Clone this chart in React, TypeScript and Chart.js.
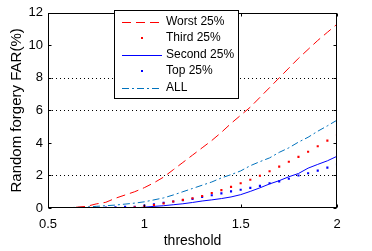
import { useEffect, useRef } from 'react';
import { Chart, registerables } from 'chart.js';

Chart.register(...registerables);

const thresholds = [0.5, 0.55, 0.6, 0.65, 0.7, 0.75, 0.8, 0.85, 0.9, 0.95, 1.0, 1.05, 1.1, 1.15, 1.2, 1.25, 1.3, 1.35, 1.4, 1.45, 1.5, 1.55, 1.6, 1.65, 1.7, 1.75, 1.8, 1.85, 1.9, 1.95, 2.0];
const worst = [0, 0, 0.02, 0.05, 0.1, 0.25, 0.35, 0.6, 0.8, 1.0, 1.25, 1.55, 1.9, 2.35, 2.8, 3.25, 3.7, 4.15, 4.65, 5.2, 5.7, 6.2, 6.8, 7.4, 8.0, 8.6, 9.2, 9.75, 10.3, 10.8, 11.3];
const third = [0, 0, 0, 0, 0, 0, 0, 0, 0, 0.05, 0.1, 0.18, 0.28, 0.4, 0.5, 0.6, 0.74, 0.92, 1.1, 1.3, 1.52, 1.74, 1.98, 2.26, 2.54, 2.84, 3.14, 3.46, 3.8, 4.14, 4.48];
const second = [0, 0, 0, 0, 0, 0, 0, 0, 0, 0, 0.05, 0.1, 0.14, 0.2, 0.26, 0.34, 0.43, 0.5, 0.58, 0.68, 0.82, 1.02, 1.24, 1.48, 1.68, 1.92, 2.12, 2.45, 2.68, 2.9, 3.18];
const top25 = [0, 0, 0, 0, 0, 0, 0.03, 0.04, 0.07, 0.08, 0.15, 0.22, 0.32, 0.4, 0.48, 0.56, 0.68, 0.78, 0.9, 1.02, 1.12, 1.24, 1.36, 1.52, 1.64, 1.8, 2.0, 2.14, 2.3, 2.48, 2.68];
const all = [0, 0, 0.02, 0.04, 0.06, 0.1, 0.14, 0.18, 0.24, 0.3, 0.38, 0.5, 0.62, 0.8, 1.0, 1.2, 1.4, 1.6, 1.85, 2.05, 2.28, 2.6, 2.85, 3.08, 3.42, 3.7, 4.05, 4.35, 4.72, 5.05, 5.4];

const xTicks = [0.5, 1, 1.5, 2];
const yTicks = [0, 2, 4, 6, 8, 10, 12];
const gridValues = [2, 6, 8];
const legendLabels = ['Worst 25%', 'Third 25%', 'Second 25%', 'Top 25%', 'ALL'];

const FONT = '"Liberation Sans", Arial, sans-serif';
const RED = '#ff0000';
const BLUE = '#0000ff';
const TEAL = '#0072bd';

export default function App() {
  const ref = useRef<HTMLCanvasElement>(null);

  useEffect(() => {
    if (!ref.current) return;
    const toPts = (arr: number[]) => thresholds.map((x, i) => ({ x, y: arr[i] }));

    const frame = {
      id: 'frame',
      beforeDatasetsDraw(chart: any) {
        const { ctx, chartArea, scales } = chart;
        const { left, right } = chartArea;
        ctx.save();
        ctx.strokeStyle = '#000';
        ctx.lineWidth = 1;
        ctx.setLineDash([1, 3]);
        gridValues.forEach((v) => {
          const py = Math.round(scales.y.getPixelForValue(v)) + 0.5;
          ctx.beginPath();
          ctx.moveTo(left, py);
          ctx.lineTo(right, py);
          ctx.stroke();
        });
        ctx.restore();
      },
      afterDatasetsDraw(chart: any) {
        const { ctx, chartArea, scales } = chart;
        const left = Math.round(chartArea.left) + 0.5;
        const right = Math.round(chartArea.right) - 0.5;
        const top = Math.round(chartArea.top) + 0.5;
        const bottom = Math.round(chartArea.bottom) - 0.5;
        ctx.save();
        ctx.strokeStyle = '#000';
        ctx.lineWidth = 1;
        ctx.setLineDash([]);
        ctx.strokeRect(left, top, right - left, bottom - top);
        const tl = 3;
        ctx.beginPath();
        xTicks.forEach((v) => {
          const px = Math.round(scales.x.getPixelForValue(v)) + 0.5;
          ctx.moveTo(px, bottom);
          ctx.lineTo(px, bottom - tl);
          ctx.moveTo(px, top);
          ctx.lineTo(px, top + tl);
        });
        yTicks.forEach((v) => {
          const py = Math.round(scales.y.getPixelForValue(v)) + 0.5;
          ctx.moveTo(left, py);
          ctx.lineTo(left + tl, py);
          ctx.moveTo(right, py);
          ctx.lineTo(right - tl, py);
        });
        ctx.stroke();

        // legend box
        const bx = 114.5, by = 10.5, bw = 124, bh = 88;
        ctx.fillStyle = '#fff';
        ctx.fillRect(bx, by, bw, bh);
        ctx.strokeStyle = '#000';
        ctx.strokeRect(bx, by, bw, bh);
        const rows = [21.5, 38, 54.5, 71, 87.5];
        chart.data.datasets.forEach((ds: any, i: number) => {
          const y = rows[i];
          ctx.save();
          if (ds.showLine === false) {
            ctx.fillStyle = ds.pointBackgroundColor;
            ctx.fillRect(141, y - 1, 2, 2);
          } else {
            ctx.strokeStyle = ds.borderColor;
            ctx.lineWidth = 1;
            ctx.setLineDash(ds.borderDash || []);
            ctx.beginPath();
            ctx.moveTo(122, Math.round(y) + 0.5);
            ctx.lineTo(162, Math.round(y) + 0.5);
            ctx.stroke();
          }
          ctx.restore();
          ctx.fillStyle = '#000';
          ctx.font = `12px ${FONT}`;
          ctx.textBaseline = 'middle';
          ctx.textAlign = 'left';
          ctx.fillText(legendLabels[i], 166, y);
        });
        ctx.restore();
      },
    };

    const chart = new Chart(ref.current, {
      type: 'line',
      data: {
        datasets: [
          { label: legendLabels[0], data: toPts(worst), borderColor: RED, borderWidth: 1, borderDash: [9, 5], pointRadius: 0, fill: false, tension: 0 },
          { label: legendLabels[1], data: toPts(third), showLine: false, pointStyle: 'rect', pointRadius: 1.5, pointBorderWidth: 0, pointBackgroundColor: RED, borderColor: RED, backgroundColor: RED },
          { label: legendLabels[2], data: toPts(second), borderColor: BLUE, borderWidth: 1, pointRadius: 0, fill: false, tension: 0 },
          { label: legendLabels[3], data: toPts(top25), showLine: false, pointStyle: 'rect', pointRadius: 1.5, pointBorderWidth: 0, pointBackgroundColor: BLUE, borderColor: BLUE, backgroundColor: BLUE },
          { label: legendLabels[4], data: toPts(all), borderColor: TEAL, borderWidth: 1, borderDash: [7, 3, 2, 3], pointRadius: 0, fill: false, tension: 0 },
        ] as any,
      },
      options: {
        animation: false,
        responsive: false,
        devicePixelRatio: 1,
        layout: { padding: { left: 0, right: 35, top: 8, bottom: 0 } },
        plugins: { legend: { display: false }, tooltip: { enabled: false } },
        scales: {
          x: {
            type: 'linear',
            min: 0.5,
            max: 2,
            afterBuildTicks: (scale: any) => { scale.ticks = xTicks.map((v) => ({ value: v })); },
            afterFit: (scale: any) => { scale.height = 43; },
            grid: { display: false, drawTicks: false },
            border: { display: false },
            ticks: { font: { family: FONT, size: 13 }, color: '#000', padding: 9, maxRotation: 0, callback: (v: any) => String(Number(v)) },
            title: { display: true, text: 'threshold', font: { family: FONT, size: 14 }, color: '#000', padding: { top: 0, bottom: 1 } },
          },
          y: {
            type: 'linear',
            min: 0,
            max: 12,
            afterBuildTicks: (scale: any) => { scale.ticks = yTicks.map((v) => ({ value: v })); },
            afterFit: (scale: any) => { scale.width = 48; },
            grid: { display: false, drawTicks: false },
            border: { display: false },
            ticks: { font: { family: FONT, size: 13 }, color: '#000', padding: 5 },
            title: { display: true, text: 'Random forgery FAR(%)', font: { family: FONT, size: 15 }, color: '#000', padding: { top: 8, bottom: 0 } },
          },
        },
      } as any,
      plugins: [frame],
    });
    return () => chart.destroy();
  }, []);

  return (
    <div style={{ position: 'fixed', left: 0, top: 0, width: 372, height: 251, background: '#fff' }}>
      <canvas ref={ref} width={372} height={251} style={{ width: 372, height: 251, display: 'block' }} />
    </div>
  );
}
